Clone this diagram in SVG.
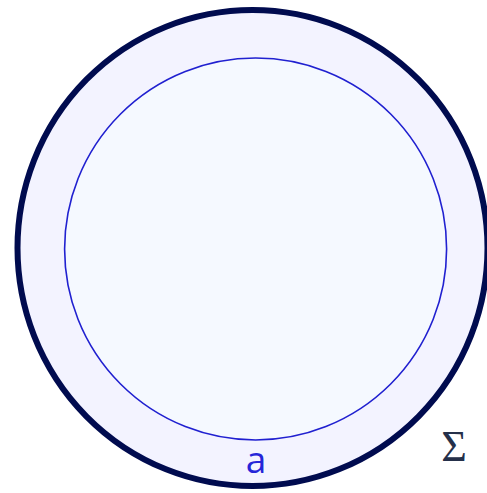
<svg xmlns="http://www.w3.org/2000/svg" width="487" height="493" viewBox="0 0 487 493">
<style>
.outer{fill:#f3f3ff;stroke:#000b4f;stroke-width:6}
.inner{fill:#f5f9ff;stroke:#2020d0;stroke-width:1.6}
.la{font-family:"Open Sans","Noto Sans",sans-serif;font-size:37px;fill:#2525d8;text-anchor:middle}
.ls{font-family:"Liberation Serif",serif;font-size:44px;fill:#25304a;text-anchor:middle}
</style>
<rect width="487" height="493" fill="#ffffff"/>
<g id="outer-circle"><ellipse class="outer" cx="252.5" cy="248" rx="235" ry="238"/></g>
<g id="inner-circle"><circle class="inner" cx="255.6" cy="249" r="191"/></g>
<g id="label-a"><text class="la" x="256" y="472.5">a</text></g>
<g id="label-sigma"><text class="ls" x="454" y="461">Σ</text></g>
<g id="connectors"></g>
</svg>
